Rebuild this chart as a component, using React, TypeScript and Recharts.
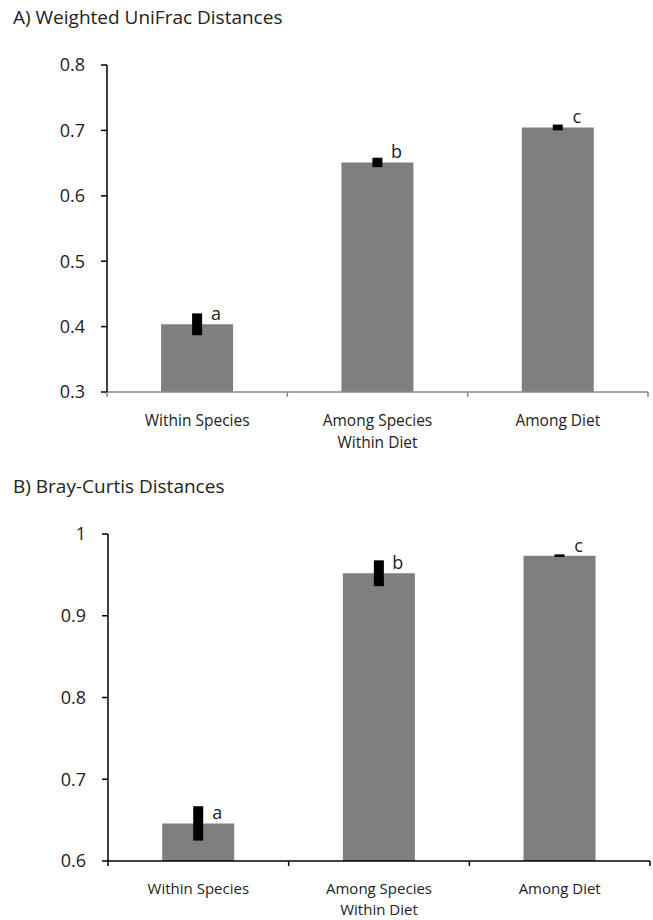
import React from 'react';
import { BarChart, Bar, XAxis, YAxis, ErrorBar, LabelList } from 'recharts';

const categories = ['Within Species', 'Among Species\nWithin Diet', 'Among Diet'];

const unifracMeans = [0.4035, 0.651, 0.7045];
const unifracErrors = [0.0167, 0.0072, 0.0044];
const unifracLetters = ['a', 'b', 'c'];
const unifracTicks = [0.3, 0.4, 0.5, 0.6, 0.7, 0.8];

const brayMeans = [0.646, 0.952, 0.9735];
const brayErrors = [0.021, 0.0158, 0.0016];
const brayLetters = ['a', 'b', 'c'];
const brayTicks = [0.6, 0.7, 0.8, 0.9, 1];

const FONT = "'Open Sans', 'Noto Sans', sans-serif";

const build = (means: number[], errors: number[], letters: string[]) =>
  categories.map((name, i) => ({ name, value: means[i], err: errors[i], letter: letters[i] }));

const CatTick = (props: any) => {
  const { x, y, payload, index, stroke, lineGap, firstGap, fontSize } = props;
  const half = payload && typeof payload.offset === 'number' ? payload.offset : 0;
  const lines = String(payload.value).split('\n');
  return (
    <g>
      {half > 0 && <line x1={x - half} x2={x - half} y1={y} y2={y + 5} stroke={stroke} strokeWidth={1.5} />}
      {half > 0 && index === categories.length - 1 && (
        <line x1={x + half} x2={x + half} y1={y} y2={y + 5} stroke={stroke} strokeWidth={1.5} />
      )}
      <text x={x} y={y} textAnchor="middle" fontFamily={FONT} fontSize={fontSize} fill="#222">
        {lines.map((l, i) => (
          <tspan key={i} x={x} dy={i === 0 ? firstGap : lineGap}>
            {l}
          </tspan>
        ))}
      </text>
    </g>
  );
};

const renderLetter = (props: any) => {
  const { x, y, width, value } = props;
  return (
    <text
      x={Number(x) + Number(width) / 2 + 19}
      y={Number(y) - 11}
      textAnchor="middle"
      dominantBaseline="central"
      fontFamily={FONT}
      fontSize={18}
      fill="#222"
    >
      {value}
    </text>
  );
};

type PanelProps = {
  data: any[];
  ticks: number[];
  height: number;
  margin: { top: number; right: number; bottom: number; left: number };
  xAxisColor: string;
  xHeight: number;
  lineGap: number;
  firstGap: number;
  fontSize: number;
};

const Panel = ({ data, ticks, height, margin, xAxisColor, xHeight, lineGap, firstGap, fontSize }: PanelProps) => (
  <BarChart width={653} height={height} data={data} margin={margin} barCategoryGap="30%">
    <XAxis
      dataKey="name"
      interval={0}
      height={xHeight}
      tickSize={0}
      tickMargin={0}
      tickLine={false}
      axisLine={{ stroke: xAxisColor, strokeWidth: 1.5 }}
      tick={(p: any) => (
        <CatTick {...p} stroke={xAxisColor} lineGap={lineGap} firstGap={firstGap} fontSize={fontSize} />
      )}
    />
    <YAxis
      type="number"
      domain={[ticks[0], ticks[ticks.length - 1]]}
      ticks={ticks}
      interval={0}
      allowDataOverflow
      width={60}
      tickSize={6}
      tickMargin={16}
      axisLine={{ stroke: '#000', strokeWidth: 1.5 }}
      tickLine={{ stroke: '#000', strokeWidth: 1.5 }}
      tick={{ fill: '#222', fontSize: 18, fontFamily: FONT }}
    />
    <Bar dataKey="value" fill="#7f7f7f" isAnimationActive={false}>
      <ErrorBar dataKey="err" width={0} strokeWidth={10} stroke="#000" isAnimationActive={false} />
      <LabelList dataKey="letter" content={renderLetter} />
    </Bar>
  </BarChart>
);

const titleStyle: React.CSSProperties = {
  position: 'absolute',
  left: 13,
  fontFamily: FONT,
  fontSize: 19,
  lineHeight: '19px',
  color: '#222',
  whiteSpace: 'nowrap',
};

export default function App() {
  const dataA = build(unifracMeans, unifracErrors, unifracLetters);
  const dataB = build(brayMeans, brayErrors, brayLetters);
  return (
    <div style={{ position: 'absolute', left: 0, top: 0, width: 653, height: 920, background: '#fff' }}>
      <div style={{ position: 'absolute', left: 0, top: 0 }}>
        <Panel
          data={dataA}
          ticks={unifracTicks}
          height={470}
          margin={{ top: 65, right: 5, bottom: 18, left: 47 }}
          xAxisColor="#888"
          xHeight={60}
          firstGap={34}
          lineGap={21.5}
          fontSize={15.5}
        />
      </div>
      <div style={{ position: 'absolute', left: 0, top: 460 }}>
        <Panel
          data={dataB}
          ticks={brayTicks}
          height={460}
          margin={{ top: 74, right: 3, bottom: 9, left: 48 }}
          xAxisColor="#000"
          xHeight={50}
          firstGap={33}
          lineGap={20.5}
          fontSize={15}
        />
      </div>
      <div style={{ ...titleStyle, top: 8 }}>A) Weighted UniFrac Distances</div>
      <div style={{ ...titleStyle, top: 477 }}>B) Bray-Curtis Distances</div>
    </div>
  );
}
